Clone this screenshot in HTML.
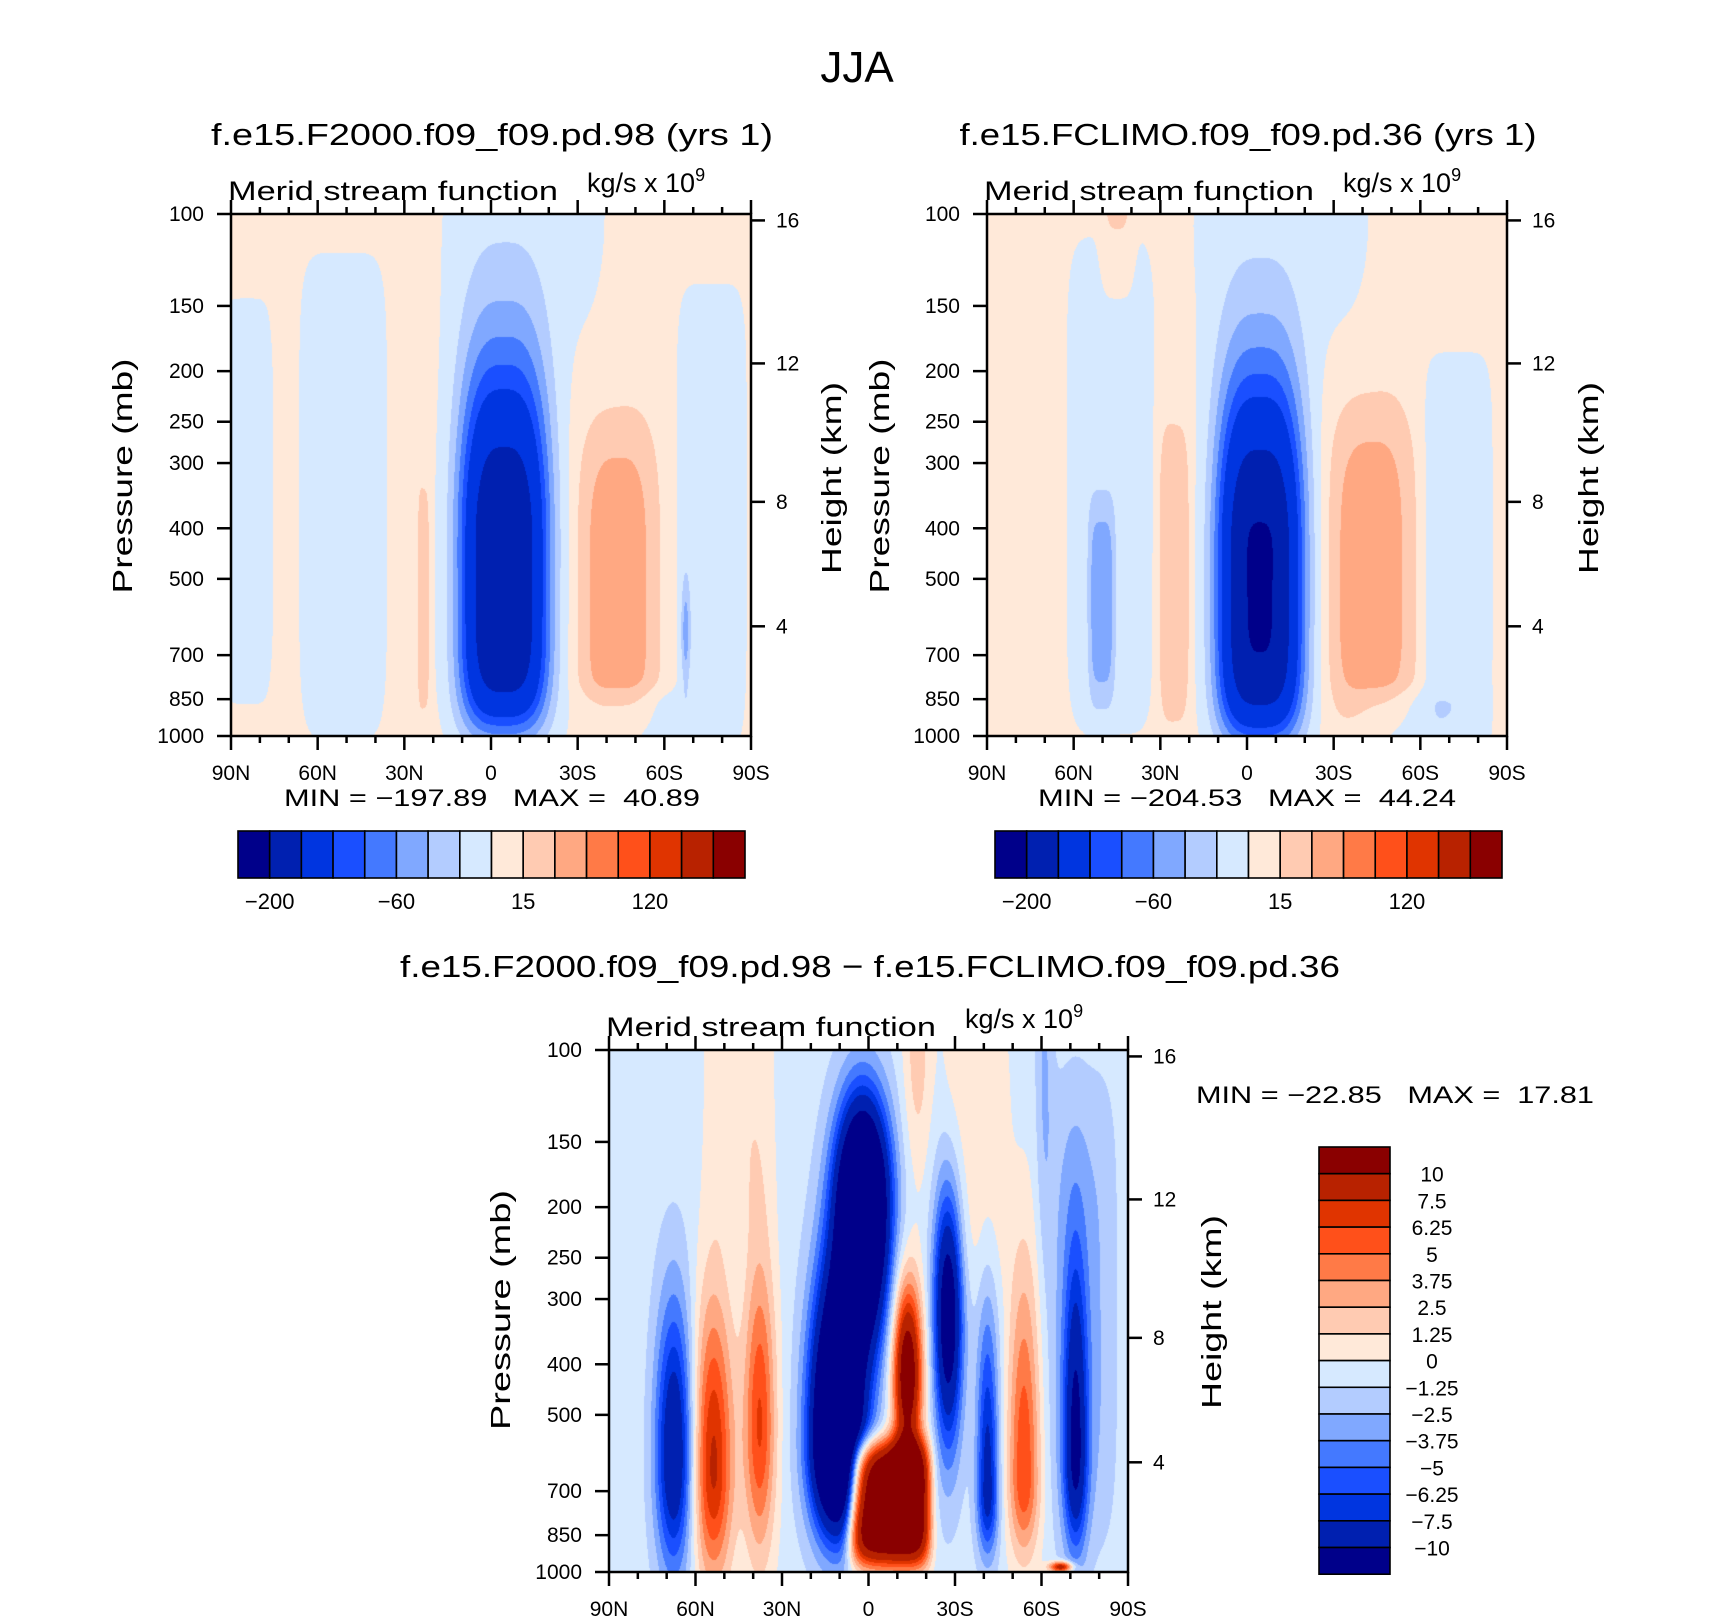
<!DOCTYPE html>
<html><head><meta charset="utf-8">
<style>
html,body{margin:0;padding:0;background:#fff;}
#wrap{position:relative;width:1710px;height:1620px;overflow:hidden;background:#fff;}
canvas{position:absolute;}
svg{position:absolute;left:0;top:0;}
text{font-family:"Liberation Sans",sans-serif;fill:#000;white-space:pre;}
</style></head>
<body>
<div id="wrap">
<canvas id="cTL" width="520" height="522" style="left:231px;top:214px"></canvas>
<canvas id="cTR" width="520" height="522" style="left:987px;top:214px"></canvas>
<canvas id="cB" width="519" height="522" style="left:609px;top:1050px"></canvas>
<svg id="ov" width="1710" height="1620">
<text x="857" y="82" font-size="44" text-anchor="middle">JJA</text>
<text x="492" y="145" font-size="31" text-anchor="middle" textLength="562" lengthAdjust="spacingAndGlyphs">f.e15.F2000.f09_f09.pd.98 (yrs 1)</text>
<text x="1248" y="145" font-size="31" text-anchor="middle" textLength="577" lengthAdjust="spacingAndGlyphs">f.e15.FCLIMO.f09_f09.pd.36 (yrs 1)</text>
<text x="870" y="977" font-size="31" text-anchor="middle" textLength="940" lengthAdjust="spacingAndGlyphs">f.e15.F2000.f09_f09.pd.98 − f.e15.FCLIMO.f09_f09.pd.36</text>

<text x="228" y="200" font-size="27" textLength="330" lengthAdjust="spacingAndGlyphs">Merid stream function</text>
<text x="587" y="192" font-size="27">kg/s x 10<tspan font-size="18" dy="-11">9</tspan></text>
<text x="984" y="200" font-size="27" textLength="330" lengthAdjust="spacingAndGlyphs">Merid stream function</text>
<text x="1343" y="192" font-size="27">kg/s x 10<tspan font-size="18" dy="-11">9</tspan></text>
<text x="606" y="1036" font-size="27" textLength="330" lengthAdjust="spacingAndGlyphs">Merid stream function</text>
<text x="965" y="1028" font-size="27">kg/s x 10<tspan font-size="18" dy="-11">9</tspan></text>

<text x="492" y="806" font-size="24" text-anchor="middle" textLength="416" lengthAdjust="spacingAndGlyphs">MIN = −197.89   MAX =  40.89</text>
<text x="1247" y="806" font-size="24" text-anchor="middle" textLength="418" lengthAdjust="spacingAndGlyphs">MIN = −204.53   MAX =  44.24</text>
<text x="1395" y="1103" font-size="24" text-anchor="middle" textLength="398" lengthAdjust="spacingAndGlyphs">MIN = −22.85   MAX =  17.81</text>

<text transform="translate(132,476) rotate(-90)" font-size="28" text-anchor="middle" textLength="235" lengthAdjust="spacingAndGlyphs">Pressure (mb)</text>
<text transform="translate(889,476) rotate(-90)" font-size="28" text-anchor="middle" textLength="235" lengthAdjust="spacingAndGlyphs">Pressure (mb)</text>
<text transform="translate(510,1310) rotate(-90)" font-size="28" text-anchor="middle" textLength="240" lengthAdjust="spacingAndGlyphs">Pressure (mb)</text>
<text transform="translate(841,478) rotate(-90)" font-size="28" text-anchor="middle" textLength="192" lengthAdjust="spacingAndGlyphs">Height (km)</text>
<text transform="translate(1598,478) rotate(-90)" font-size="28" text-anchor="middle" textLength="192" lengthAdjust="spacingAndGlyphs">Height (km)</text>
<text transform="translate(1221,1312) rotate(-90)" font-size="28" text-anchor="middle" textLength="194" lengthAdjust="spacingAndGlyphs">Height (km)</text>
<g id="axes"></g>
</svg>
</div>
<script>
// ---- data: contour levels ----
const levelsFull = [-200,-150,-100,-80,-60,-40,-20,0,15,30,45,60,120,150,200];
const levelsDiff = [-10,-7.5,-6.25,-5,-3.75,-2.5,-1.25,0,1.25,2.5,3.75,5,6.25,7.5,10];
const fullBarLabels = ["−200","−60","15","120"];
const fullBarLabelIdx = [0,4,8,12];
const palette = ["#00008a","#0020b0","#0035e0","#1a4fff","#4479ff","#80a8ff","#b3ccff","#d6e9ff","#ffe9d9","#ffcbb2","#ffa882","#ff7a47","#ff501a","#e03400","#b82200","#8a0000"];
const pressureTicks = [100,150,200,250,300,400,500,700,850,1000];
const heightTicks = [16,12,8,4];
const latTicks = [90,60,30,0,-30,-60,-90];
const latLabels = ["90N","60N","30N","0","30S","60S","90S"];

// ---- data: left panel (F2000) stream-function features ----
const tlBase = 5;
const tlLat  = [-4.5,-12,51.3,84.6,-76.5,-50,-67.5,-44,23.4];
const tlP    = [427,100,347,355,380,933,631,562,562];
const tlAmp  = [-200,-10,-15,-15,-15,-15,-45,37,20];
const tlSx   = [15.5,30,15,9,12,20,1.5,13.5,2.2];
const tlSyUp = [0.36,0.3,0.46,0.38,0.44,0.06,0.1,0.36,0.25];
const tlSyDn = [0.36,0.3,0.46,0.38,0.44,0.06,0.1,0.24,0.22];
const tlNx   = [3,4,6,6,6,4,2,3,4];
const tlNyUp = [2,2,6,4,6,4,2,4,4];
const tlNyDn = [6,2,6,4,6,4,2,4,4];

// ---- data: right panel (FCLIMO) ----
const trBase = 5;
const trLat  = [-4.5,-12,47.3,45,50.4,25.2,-43,-73,-58];
const trP    = [443,100,331,100,562,501,537,447,933];
const trAmp  = [-210,-10,-15,14,-45,20,38,-15,-15];
const trSx   = [15,33,15,6,4.5,6,14.5,12,22];
const trSyUp = [0.35,0.3,0.47,0.18,0.2,0.33,0.37,0.38,0.06];
const trSyDn = [0.36,0.3,0.47,0.18,0.2,0.3,0.25,0.38,0.06];
const trNx   = [3,4,6,4,4,4,3,6,4];
const trNyUp = [2,2,6,4,4,4,4,6,4];
const trNyDn = [6,2,6,4,4,4,4,6,4];

// ---- data: difference panel ----
const dfBase = -0.6;
const dfLat  = [67.5,54,37.8,45,2,11,-13.5,-7.2,-27.7,-17,-37,-41.4,-54,-72,-74,-61,-67];
const dfP    = [603,631,525,100,200,562,417,741,316,100,150,708,661,603,316,100,980];
const dfAmp  = [-9.5,8.5,7,1.6,-22,-22,14,16,-12.5,2.5,1.5,-8,6.8,-9,-2,-2,10];
const dfSx   = [6.5,7,5.5,12,9,9,5,14,5,5,12,3.8,5.5,4.2,12,3,4];
const dfSyUp = [0.3,0.33,0.33,0.35,0.2,0.3,0.17,0.12,0.24,0.25,0.3,0.35,0.4,0.38,0.45,0.4,0.01];
const dfSyDn = [0.22,0.22,0.25,0.35,0.25,0.17,0.17,0.12,0.26,0.25,0.3,0.12,0.15,0.18,0.45,0.4,0.01];
const dfNx   = [2,2,2,4,2,2,2,6,2,2,4,2,2,2,4,2,2];
const dfNyUp = [2,2,2,4,2,2,2,4,2,2,4,2,2,2,4,2,2];
const dfNyDn = [2,2,2,4,2,2,2,4,2,2,4,2,2,2,4,2,2];

function hexRGB(h){return [parseInt(h.substr(1,2),16),parseInt(h.substr(3,2),16),parseInt(h.substr(5,2),16)];}
const palRGB = palette.map(hexRGB);

function drawField(id, base, lat, p, amp, sx, syU, syD, nx, nyU, nyD, levels){
  const c = document.getElementById(id), ctx = c.getContext('2d');
  const W = c.width, H = c.height, img = ctx.createImageData(W,H), d = img.data;
  const pv = p.map(q => Math.log10(q) - 2);
  for(let j=0;j<H;j++){
    const v = j/(H-1);
    for(let i=0;i<W;i++){
      const la = 90 - 180*i/(W-1);
      let val = base;
      for(let k=0;k<lat.length;k++){
        const dx = Math.abs((la-lat[k])/sx[k]);
        const dv = v - pv[k];
        const up = dv<0;
        const dy = Math.abs(dv/(up?syU[k]:syD[k]));
        const e = Math.pow(dx,nx[k]) + Math.pow(dy,up?nyU[k]:nyD[k]);
        if(e<40) val += amp[k]*Math.exp(-e);
      }
      let idx = 0; while(idx<levels.length && val>=levels[idx]) idx++;
      const col = palRGB[idx], o = (j*W+i)*4;
      d[o]=col[0]; d[o+1]=col[1]; d[o+2]=col[2]; d[o+3]=255;
    }
  }
  ctx.putImageData(img,0,0);
}
drawField('cTL', tlBase, tlLat, tlP, tlAmp, tlSx, tlSyUp, tlSyDn, tlNx, tlNyUp, tlNyDn, levelsFull);
drawField('cTR', trBase, trLat, trP, trAmp, trSx, trSyUp, trSyDn, trNx, trNyUp, trNyDn, levelsFull);
drawField('cB', dfBase, dfLat, dfP, dfAmp, dfSx, dfSyUp, dfSyDn, dfNx, dfNyUp, dfNyDn, levelsDiff);

const NS = "http://www.w3.org/2000/svg";
const axes = document.getElementById('axes');
function mk(tag, attrs, parent){const e=document.createElementNS(NS,tag);for(const k in attrs)e.setAttribute(k,attrs[k]);(parent||axes).appendChild(e);return e;}
function zToP(z){ return z<=11 ? 1013.25*Math.pow(1-0.0065*z*1000/288.15,5.2559) : 226.32*Math.exp(-(z-11)*1000/6341.6); }

function drawAxes(name,x0,y0,w,h){
  const g = mk('g',{});
  
  
  const yP = p => y0 + (Math.log10(p)-2)*h;
  const xL = la => x0 + (90-la)/180*w;
  const fr = mk('rect',{x:x0,y:y0,width:w,height:h,fill:'none',stroke:'#000','stroke-width':2.5},g);
  
  
  pressureTicks.forEach(p=>{
    const y = yP(p);
    const t = mk('line',{x1:x0-14,x2:x0,y1:y,y2:y,stroke:'#000','stroke-width':2.5},g);
    
    
    const l = mk('text',{x:x0-27,y:y+7,'font-size':21,'text-anchor':'end'},g);
    l.textContent = p;
    
    
  });
  heightTicks.forEach(z=>{
    const y = yP(zToP(z));
    const t = mk('line',{x1:x0+w,x2:x0+w+14,y1:y,y2:y,stroke:'#000','stroke-width':2.5},g);
    
    
    const l = mk('text',{x:x0+w+25,y:y+7,'font-size':21},g);
    l.textContent = z;
    
    
  });
  for(let la=90; la>=-90; la-=10){
    const x = xL(la), major = (la%30===0), len = major?14:7;
    const tb = mk('line',{x1:x,x2:x,y1:y0+h,y2:y0+h+len,stroke:'#000','stroke-width':2.5},g);
    
    
    const tt = mk('line',{x1:x,x2:x,y1:y0,y2:y0-len,stroke:'#000','stroke-width':2.5},g);
    
    
  }
  latTicks.forEach((la,i)=>{
    const l = mk('text',{x:xL(la),y:y0+h+44,'font-size':21,'text-anchor':'middle'},g);
    l.textContent = latLabels[i];
    
    
  });
}
drawAxes('left',231,214,520,522);
drawAxes('right',987,214,520,522);
drawAxes('diff',609,1050,519,522);

function hBar(name,x0,y0,w,h){
  const g = mk('g',{});
  
  
  const bw = w/palette.length;
  palette.forEach((c,i)=>{
    const r = mk('rect',{x:x0+i*bw,y:y0,width:bw,height:h,fill:c,stroke:'#000','stroke-width':1.6},g);
    
    
  });
  fullBarLabelIdx.forEach((b,i)=>{
    const l = mk('text',{x:x0+(b+1)*bw,y:y0+h+31,'font-size':22,'text-anchor':'middle'},g);
    l.textContent = fullBarLabels[i];
    
    
  });
}
hBar('left',238,831,507,47);
hBar('right',995,831,507,47);

(function vBar(){
  const x0=1319,y0=1147,w=71,bh=26.7;
  const g = mk('g',{});
  
  
  for(let k=0;k<16;k++){
    const r = mk('rect',{x:x0,y:y0+k*bh,width:w,height:bh,fill:palette[15-k],stroke:'#000','stroke-width':1.6},g);
    
    
  }
  for(let k=1;k<16;k++){
    const v = levelsDiff[15-k];
    const l = mk('text',{x:1432,y:y0+k*bh+8,'font-size':21,'text-anchor':'middle'},g);
    l.textContent = String(v).replace('-','−');
    
    
  }
})();
</script>
</body></html>
